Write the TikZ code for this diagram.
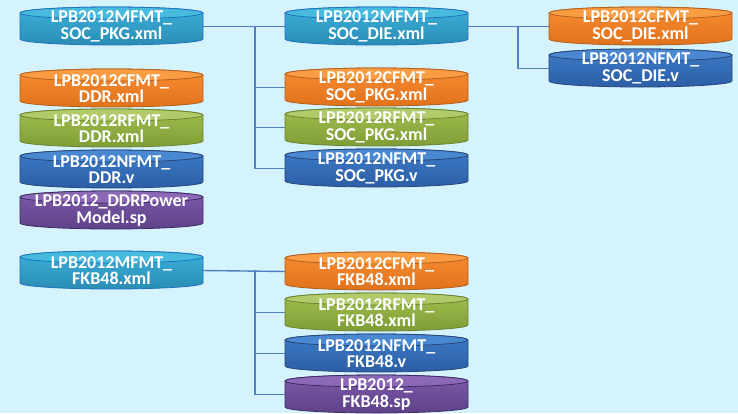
\documentclass[tikz,border=0pt]{standalone}
\usepackage{fontspec}
\setmainfont{Carlito}
\usetikzlibrary{positioning}

\definecolor{bgcol}{HTML}{D5F3FD}
\definecolor{wirecol}{HTML}{4F81BD}
% cylinder colours: cap, top and bottom of the body, outline
\definecolor{mfmtcap}{HTML}{47BADD}
\definecolor{mfmttop}{HTML}{3CB1DA}
\definecolor{mfmtbot}{HTML}{2A8CB4}
\definecolor{mfmtline}{HTML}{1F72BE}
\definecolor{cfmtcap}{HTML}{FA9C42}
\definecolor{cfmttop}{HTML}{F98D32}
\definecolor{cfmtbot}{HTML}{DF721C}
\definecolor{cfmtline}{HTML}{B3601C}
\definecolor{rfmtcap}{HTML}{B1CB6A}
\definecolor{rfmttop}{HTML}{A0BE4E}
\definecolor{rfmtbot}{HTML}{7F9D35}
\definecolor{rfmtline}{HTML}{6A8430}
\definecolor{nfmtcap}{HTML}{4A88D2}
\definecolor{nfmttop}{HTML}{3D7BC8}
\definecolor{nfmtbot}{HTML}{2C5EA6}
\definecolor{nfmtline}{HTML}{27467A}
\definecolor{spcap}{HTML}{8B69B6}
\definecolor{sptop}{HTML}{7C5AA8}
\definecolor{spbot}{HTML}{5F428A}
\definecolor{spline}{HTML}{3F2C66}

% #1 colour set, #2 name, #3 position, #4 text
\newcommand{\dbnode}[4]{%
  \begin{scope}[shift={#3}]
  \shadedraw[top color=#1top, bottom color=#1bot, draw=#1line, line width=0.8pt]
    (-91.5,13) -- (-91.5,-13) arc[start angle=180,end angle=360,x radius=91.5,y radius=6]
    -- (91.5,13) arc[start angle=0,end angle=180,x radius=91.5,y radius=6] -- cycle;
  \filldraw[fill=#1cap, draw=#1line, line width=0.8pt] (0,13) ellipse[x radius=91.5,y radius=6];
  \end{scope}
  \node[db] (#2) at #3 {#4};}

\tikzset{
  db/.style={minimum width=183pt, minimum height=38pt, inner sep=0pt, align=center,
    text=white, font=\bfseries\fontsize{18}{16.5}\selectfont, yshift=-0.5pt},
  link/.style={draw=wirecol, line width=1.4pt}
}

\begin{document}
\begin{tikzpicture}[x=1pt,y=1pt]
\fill[bgcol] (0,0) rectangle (738,-413);
\useasboundingbox (0,0) rectangle (738,-413);

% top group
\dbnode{mfmt}{pkgM}{(111.5,-26)}{LPB2012MFMT\_\\SOC\_PKG.xml}
\dbnode{cfmt}{ddrC}{(111.5,-88)}{LPB2012CFMT\_\\DDR.xml}
\dbnode{rfmt}{ddrR}{(111.5,-128)}{LPB2012RFMT\_\\DDR.xml}
\dbnode{nfmt}{ddrN}{(111.5,-169)}{LPB2012NFMT\_\\DDR.v}
\dbnode{sp}{ddrP}{(111.5,-210)}{LPB2012\_DDRPower\\Model.sp}

\dbnode{mfmt}{dieM}{(376.5,-26)}{LPB2012MFMT\_\\SOC\_DIE.xml}
\dbnode{cfmt}{pkgC}{(376.5,-87)}{LPB2012CFMT\_\\SOC\_PKG.xml}
\dbnode{rfmt}{pkgR}{(376.5,-127)}{LPB2012RFMT\_\\SOC\_PKG.xml}
\dbnode{nfmt}{pkgN}{(376.5,-168)}{LPB2012NFMT\_\\SOC\_PKG.v}

\dbnode{cfmt}{dieC}{(640.5,-26)}{LPB2012CFMT\_\\SOC\_DIE.xml}
\dbnode{nfmt}{dieN}{(640.5,-68)}{LPB2012NFMT\_\\SOC\_DIE.v}

% bottom group
\dbnode{mfmt}{fkbM}{(111.5,-270)}{LPB2012MFMT\_\\FKB48.xml}
\dbnode{cfmt}{fkbC}{(376.5,-271)}{LPB2012CFMT\_\\FKB48.xml}
\dbnode{rfmt}{fkbR}{(376.5,-312)}{LPB2012RFMT\_\\FKB48.xml}
\dbnode{nfmt}{fkbN}{(376.5,-353)}{LPB2012NFMT\_\\FKB48.v}
\dbnode{sp}{fkbP}{(376.5,-394)}{LPB2012\_\\FKB48.sp}

\coordinate (j1) at (255,-26);
\coordinate (j2) at (518,-26);
\coordinate (j3) at (255,-270);

\draw[link] (pkgM.east) -- (dieM.west);
\foreach \n in {pkgC,pkgR,pkgN}
  \draw[link] (j1) |- (\n.west);
\draw[link] (dieM.east) -- (dieC.west);
\draw[link] (j2) |- (dieN.west);
\draw[link] (fkbM.east) -- (fkbC.west);
\foreach \n in {fkbR,fkbN,fkbP}
  \draw[link] (j3) |- (\n.west);
\end{tikzpicture}
\end{document}
